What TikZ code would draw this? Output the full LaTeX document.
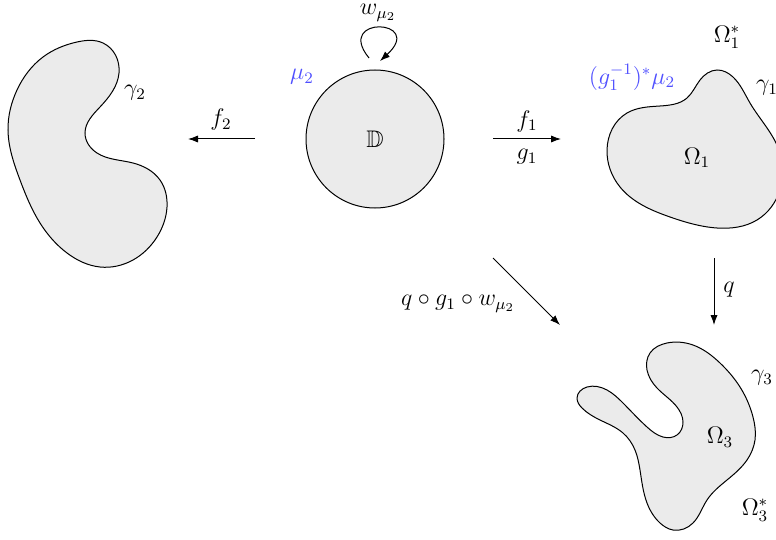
\documentclass[tikz,border=0pt]{standalone}
\usepackage{amsmath,amssymb}
\usetikzlibrary{arrows.meta,hobby}
\definecolor{shade}{RGB}{235,235,235}
\definecolor{mublue}{RGB}{80,80,255}
\begin{document}
\begin{tikzpicture}[x=0.5pt,y=-0.5pt,
  region/.style={draw=black,fill=shade,line width=0.5pt},
  arr/.style={-{Latex[length=5pt,width=3.6pt]},line width=0.5pt},
  lbl/.style={inner sep=0pt,font=\large}]
\useasboundingbox (0,0) rectangle (776,540);
\clip (0,0) rectangle (776,540);
% disk
\node[region,circle,minimum size=69pt,inner sep=0pt] (D) at (375,139) {};
\node[lbl] (Dl) at (375,139) {$\mathbb{D}$};
\node[lbl,text=mublue] (mu) at (302,77) {$\mu_2$};
% loop
\coordinate (ls) at (369,58);
\coordinate (le) at (380,61);
\draw[arr] (ls) .. controls (334,15) and (426,19) .. (le);
\node[lbl] (w) at (378,13) {$w_{\mu_2}$};
% left region
\draw[region,use Hobby shortcut,closed=true]
 (119,73) .. (100,107) .. (85,133) .. (97,153) .. (133,163) .. (160,180) .. (167,207)
 .. (157,237) .. (133,260) .. (100,267) .. (67,253) .. (40,223) .. (20,180) .. (8,130)
 .. (17,90) .. (43,57) .. (77,42) .. (103,43);
\node[lbl] (g2) at (135,93) {$\gamma_2$};
% Omega1
\draw[region,use Hobby shortcut,closed=true]
 (717,70) .. (700,80) .. (687,98) .. (660,106) .. (627,113) .. (607,150) .. (620,187) .. (670,217)
 .. (717,228) .. (757,220) .. (780,190) .. (779,150) .. (750,103) .. (733,77);
\node[lbl] (O1) at (697,158) {$\Omega_1$};
\node[lbl] (g1l) at (767,88) {$\gamma_1$};
\node[lbl] (O1s) at (727,37) {$\Omega_1^*$};
\node[lbl,text=mublue] (pull) at (632,77) {$(g_1^{-1})^*\mu_2$};
% Omega3
\draw[region,use Hobby shortcut,closed=true]
 (667,343) .. (650,353) .. (647,370) .. (657,388) .. (677,407) .. (683,422) .. (677,435)
 .. (663,437) .. (647,427) .. (623,403) .. (607,390) .. (587,387) .. (577,398) .. (582,408)
 .. (600,420) .. (623,433) .. (635,450) .. (640,470) .. (647,503) .. (660,523) .. (673,530)
 .. (693,523) .. (707,500) .. (727,480) .. (747,460) .. (755,440) .. (753,417) .. (740,387)
 .. (720,363) .. (693,345);
\node[lbl] (O3) at (720,437) {$\Omega_3$};
\node[lbl] (g3l) at (762,378) {$\gamma_3$};
\node[lbl] (O3s) at (755,510) {$\Omega_3^*$};
% arrows
\coordinate (f2s) at (255,139); \coordinate (f2e) at (188,139);
\draw[arr] (f2s) -- (f2e);
\node[lbl] (f2) at (221,120) {$f_2$};
\coordinate (f1s) at (493,139); \coordinate (f1e) at (561,139);
\draw[arr] (f1s) -- (f1e);
\node[lbl] (f1) at (527,121) {$f_1$};
\node[lbl] (g1) at (527,157) {$g_1$};
\coordinate (qs) at (714,258); \coordinate (qe) at (714,325);
\draw[arr] (qs) -- (qe);
\node[lbl] (q) at (729,290) {$q$};
\coordinate (ds) at (493,258); \coordinate (de) at (560,325);
\draw[arr] (ds) -- (de);
\node[lbl] (comp) at (458,304) {$q\circ g_1\circ w_{\mu_2}$};
\end{tikzpicture}
\end{document}
